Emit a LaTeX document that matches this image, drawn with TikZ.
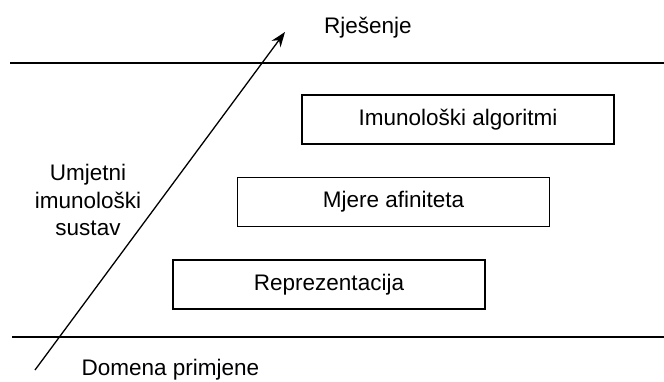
\documentclass[tikz,border=0pt]{standalone}
\usepackage{fontspec}
\setmainfont{Liberation Sans}
\usetikzlibrary{positioning,arrows.meta}
\tikzset{
x=1pt, y=1pt,
>={Stealth[length=15pt,width=11pt]},
node distance=32pt,
every node/.style={font=\fontsize{22.5}{27.5}\selectfont},
layer/.style={draw, line width=1.6pt, minimum width=312pt, minimum height=49pt},
border/.style={line width=1.6pt},
}

\begin{document}
\begin{tikzpicture}
    \useasboundingbox (0,0) rectangle (664,381);

    % levels
    \node[layer] (alg) at (458,261.5) {Imunološki algoritmi};
    \node[layer,below=of alg,xshift=-64.5pt] (afin) {Mjere afiniteta};
    \node[layer,below=of afin,xshift=-64.5pt] (repr) {Reprezentacija};

    % borders
    \coordinate (topL) at (10,318);
    \coordinate (topR) at (664,318);
    \coordinate (botL) at (12,44);
    \coordinate (botR) at (664,44);
    \draw[border] (topL) -- (topR);
    \draw[border] (botL) -- (botR);

    \node (sol) at (368,353) {Rješenje};
    \node[anchor=west] (dom) at (78,11) {Domena primjene};
    \node[align=center] (ais) at (88,181) {Umjetni\\imunološki\\sustav};

    \coordinate (start) at (35,11);
    \coordinate (tip) at (285,349);
    \draw[->, line width=1.3pt] (start) -- (tip);

\end{tikzpicture}
\end{document}
